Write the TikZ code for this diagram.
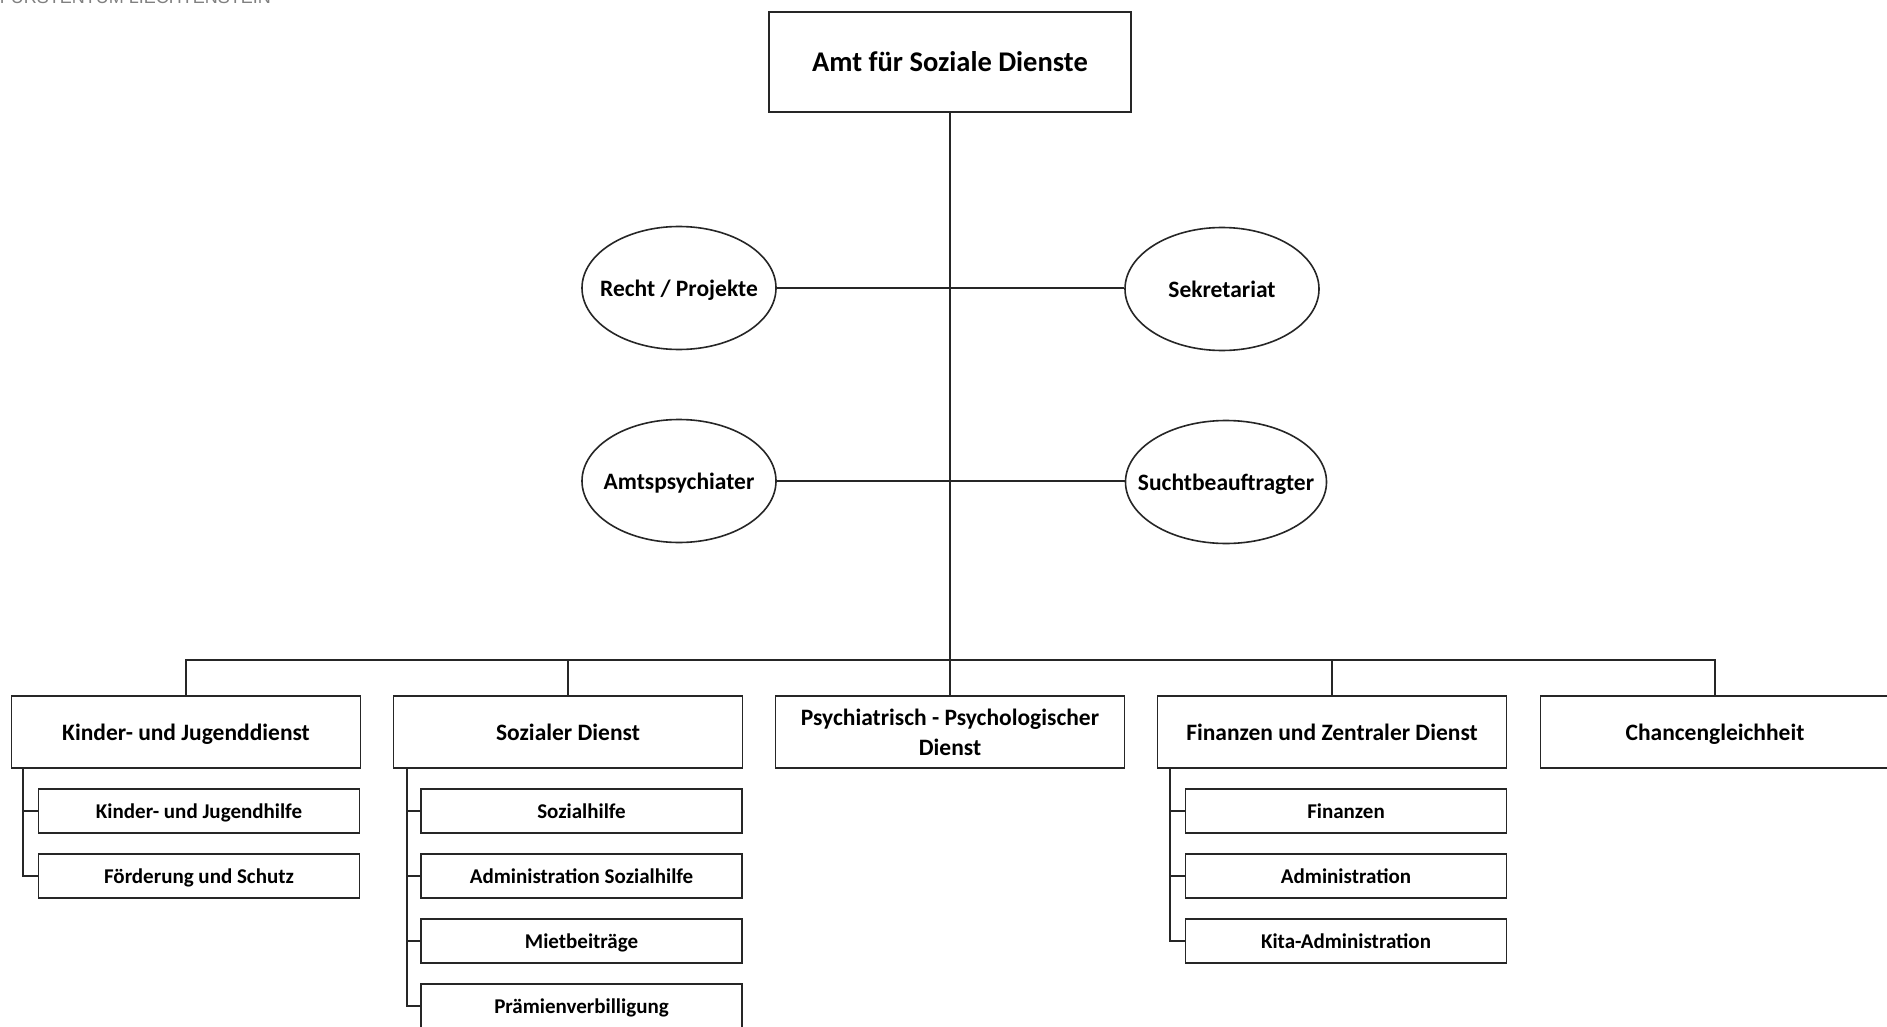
\documentclass[tikz,border=0pt]{standalone}
\usepackage{fontspec}
\setmainfont{Carlito}
\newfontfamily\hdrfont{Liberation Sans}
\usetikzlibrary{shapes.geometric}
\newcommand{\ovaltext}[1]{\makebox[0pt]{#1}}
\begin{document}
\begin{tikzpicture}[x=1pt,y=-1pt,
  conn/.style={draw=black!85, line width=1.6pt},
  topbox/.style={draw=black!85, line width=1.6pt, rectangle, inner sep=0pt,
    minimum width=362pt, minimum height=100pt, font=\bfseries\fontsize{28.5}{34}\selectfont,
    text height=22pt, text depth=3.2pt},
  oval/.style={draw=black!85, line width=1.6pt, ellipse, inner sep=0pt,
    minimum width=194pt, minimum height=123pt, font=\bfseries\fontsize{23.5}{28}\selectfont,
    text height=20pt, text depth=4pt},
  unitbox/.style={draw=black!85, line width=1.6pt, rectangle, inner sep=0pt, align=center,
    minimum width=349pt, minimum height=72pt, font=\bfseries\fontsize{23.5}{30}\selectfont},
  oneline/.style={text height=19pt, text depth=1.5pt},
  subbox/.style={draw=black!85, line width=1.6pt, rectangle, inner sep=0pt,
    minimum width=321pt, minimum height=44pt, font=\bfseries\fontsize{21}{25}\selectfont,
    text height=17pt, text depth=1.7pt}
]
\useasboundingbox (0,0) rectangle (1887,1027);
\fill[white] (0,0) rectangle (1887,1027);

% header (cut off at the top edge, as in the source page)
\node[anchor=base east, text=black!50, font=\hdrfont\fontsize{18}{21}\selectfont, inner sep=0pt] (hdr) at (271,4) {FÜRSTENTUM LIECHTENSTEIN};

% top
\node[topbox] (amt) at (950,62) {Amt für Soziale Dienste};

% staff ellipses
\node[oval] (recht) at (679,288) {\ovaltext{Recht / Projekte}};
\node[oval] (sek) at (1222,289) {\ovaltext{Sekretariat}};
\node[oval] (psy) at (679,481) {\ovaltext{Amtspsychiater}};
\node[oval, minimum width=201pt] (sucht) at (1226,482) {\ovaltext{Suchtbeauftragter}};

% units
\node[unitbox, oneline] (kjd) at (186,732) {Kinder- und Jugenddienst};
\node[unitbox, oneline] (sd) at (568,732) {Sozialer Dienst};
\node[unitbox] (ppd) at (950,732) {Psychiatrisch - Psychologischer\\Dienst};
\node[unitbox, oneline] (fzd) at (1332,732) {Finanzen und Zentraler Dienst};
\node[unitbox, oneline] (cg) at (1715,732) {Chancengleichheit};

% sub units
\node[subbox] (kj1) at (199,811) {Kinder- und Jugendhilfe};
\node[subbox] (kj2) at (199,876) {Förderung und Schutz};
\node[subbox] (sd1) at (581.5,811) {Sozialhilfe};
\node[subbox] (sd2) at (581.5,876) {Administration Sozialhilfe};
\node[subbox] (sd3) at (581.5,941) {Mietbeiträge};
\node[subbox] (sd4) at (581.5,1006) {Prämienverbilligung};
\node[subbox] (fz1) at (1346,811) {Finanzen};
\node[subbox] (fz2) at (1346,876) {Administration};
\node[subbox] (fz3) at (1346,941) {Kita-Administration};

% connectors
\coordinate (bus) at (950,660);
\draw[conn] (amt.south) -- (bus);
\draw[conn] (recht.east) -- (recht.east -| sek.west);
\draw[conn] (psy.east) -- (psy.east -| sucht.west);
\draw[conn] (kjd.north) |- (bus) -| (cg.north);
\draw[conn] (sd.north) -- (sd.north |- bus);
\draw[conn] (ppd.north) -- (bus);
\draw[conn] (fzd.north) -- (fzd.north |- bus);

\draw[conn] ([xshift=12pt]kjd.south west) |- (kj1.west);
\draw[conn] ([xshift=12pt]kjd.south west) |- (kj2.west);
\foreach \s in {sd1,sd2,sd3,sd4}
  \draw[conn] ([xshift=14pt]sd.south west) |- (\s.west);
\foreach \s in {fz1,fz2,fz3}
  \draw[conn] ([xshift=13pt]fzd.south west) |- (\s.west);
\end{tikzpicture}
\end{document}
